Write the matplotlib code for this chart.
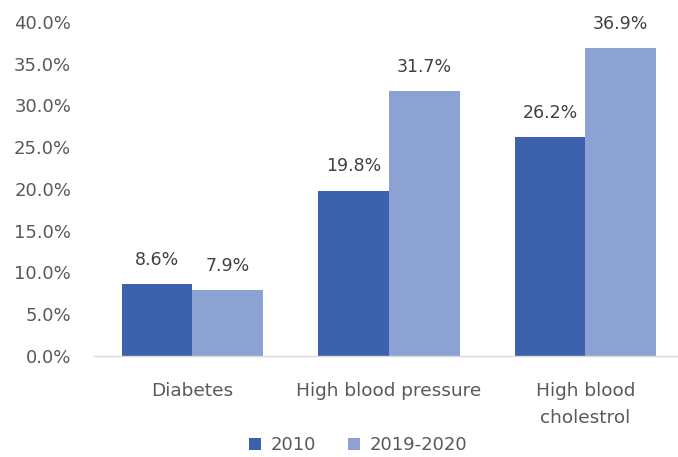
import numpy as np
import matplotlib.pyplot as plt

plt.rcParams['font.family'] = ['DejaVu Sans']

# prevalence (%) by condition
conditions = ["Diabetes", "High blood pressure", "High blood\ncholestrol"]
years = ["2010", "2019-2020"]
vals_2010 = [8.6, 19.8, 26.2]
vals_2020 = [7.9, 31.7, 36.9]
colors = ["#3c61ad", "#8ca2d3"]
grey = "#595959"

fig = plt.figure(figsize=(6.78, 4.57), dpi=100)
ax = fig.add_axes([0.1387, 0.221, 0.8695, 0.731])

x = np.arange(len(conditions))
w = 0.36
for off, vals, col, lab in [(-w/2, vals_2010, colors[0], years[0]),
                             (w/2, vals_2020, colors[1], years[1])]:
    bars = ax.bar(x + off, vals, width=w, color=col, label=lab)
    for b, v in zip(bars, vals):
        ax.annotate("%.1f%%" % v, (b.get_x() + b.get_width()/2, v),
                    xytext=(0, 17.5), textcoords="offset points",
                    ha="center", va="center", fontsize=12.5, color="#404040")

ax.set_xlim(-0.5, 2.5)
ax.set_ylim(0, 40)
ax.set_yticks(np.arange(0, 41, 5))
ax.set_yticklabels(["%.1f%%" % t for t in np.arange(0, 41, 5)])
ax.set_xticks(x)
ax.set_xticklabels(conditions, linespacing=1.65)
ax.tick_params(axis="y", length=0, pad=16.5, labelsize=13, labelcolor=grey)
ax.tick_params(axis="x", length=0, pad=19, labelsize=13.3, labelcolor=grey)
for s in ["top", "right", "left"]:
    ax.spines[s].set_visible(False)
ax.spines["bottom"].set_color("#d9d9d9")
ax.spines["bottom"].set_linewidth(1)

fig.legend(loc="center", bbox_to_anchor=(358/678, 1 - 445/457), ncol=2,
           frameon=False, fontsize=13, labelcolor=grey,
           handlelength=0.67, handleheight=0.67, handletextpad=0.55,
           columnspacing=1.75)

fig.savefig("out.png", dpi=100)
